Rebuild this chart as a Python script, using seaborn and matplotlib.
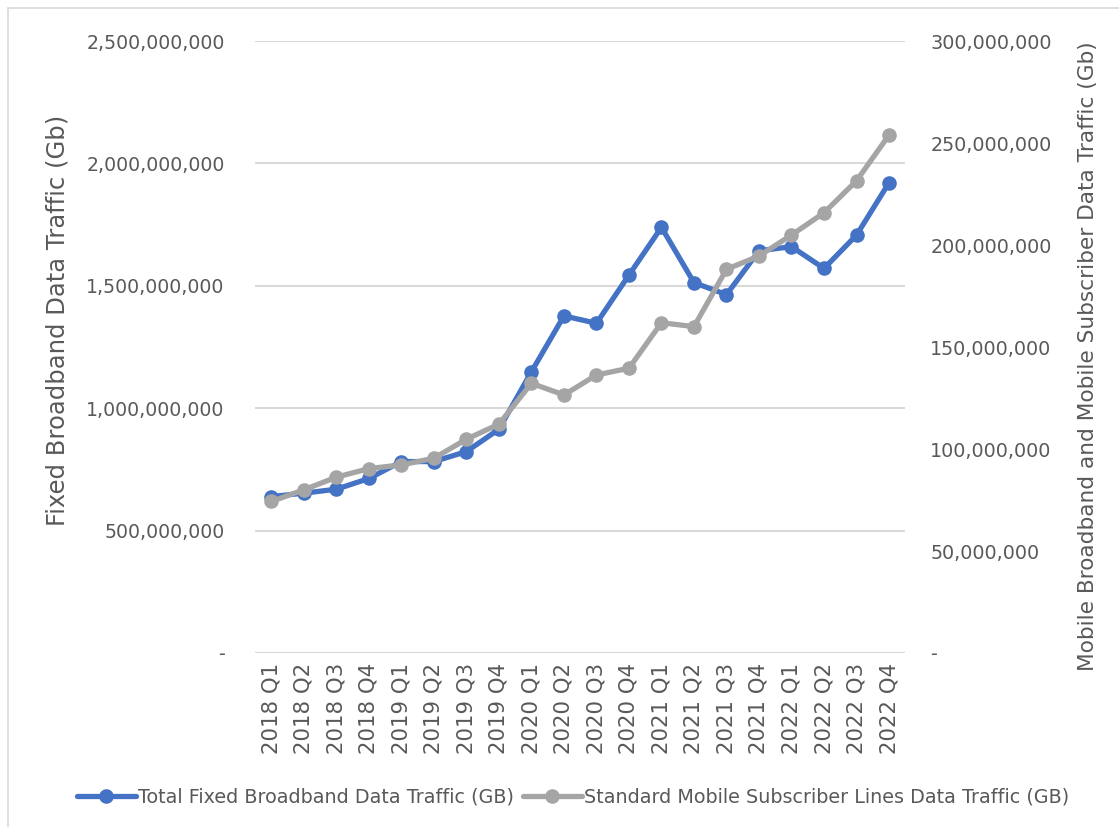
import matplotlib
matplotlib.use("Agg")
import matplotlib.pyplot as plt
import seaborn as sns
import pandas as pd
from matplotlib.ticker import FuncFormatter, MultipleLocator
from matplotlib.lines import Line2D

quarters = [
    "2018 Q1", "2018 Q2", "2018 Q3", "2018 Q4",
    "2019 Q1", "2019 Q2", "2019 Q3", "2019 Q4",
    "2020 Q1", "2020 Q2", "2020 Q3", "2020 Q4",
    "2021 Q1", "2021 Q2", "2021 Q3", "2021 Q4",
    "2022 Q1", "2022 Q2", "2022 Q3", "2022 Q4",
]
fixed_traffic = [
    639e6, 653e6, 669e6, 713e6,
    782e6, 782e6, 823e6, 914e6,
    1149e6, 1377e6, 1347e6, 1544e6,
    1739e6, 1513e6, 1464e6, 1643e6,
    1660e6, 1571e6, 1707e6, 1921e6,
]
mobile_traffic = [
    74.3e6, 80.0e6, 86.2e6, 90.4e6,
    92.2e6, 95.5e6, 104.8e6, 112.2e6,
    132.2e6, 126.5e6, 136.3e6, 139.6e6,
    161.9e6, 160.0e6, 188.1e6, 194.6e6,
    204.9e6, 215.8e6, 231.5e6, 253.9e6,
]
fixed_name = "Total Fixed Broadband Data Traffic (GB)"
mobile_name = "Standard Mobile Subscriber Lines Data Traffic (GB)"

df = pd.DataFrame({"quarter": quarters, "fixed": fixed_traffic, "mobile": mobile_traffic})

sns.set_theme(style="white")
plt.rcParams["font.family"] = ["DejaVu Sans"]

BLUE = "#4472C4"
GREY = "#A5A5A5"
TXT = "#595959"
GRID = "#D9D9D9"

fig = plt.figure(figsize=(11.19, 8.27), dpi=100)
ax = fig.add_axes([0.228, 0.2104, 0.581, 0.740])
ax2 = ax.twinx()

line_kw = dict(linewidth=3.8, marker="o", markersize=10.5, markeredgewidth=0, sort=False)
sns.lineplot(data=df, x="quarter", y="fixed", ax=ax, color=BLUE, zorder=3, **line_kw)
sns.lineplot(data=df, x="quarter", y="mobile", ax=ax2, color=GREY, zorder=3, **line_kw)

def acct(v, pos):
    return "-" if abs(v) < 1 else f"{v:,.0f}"

ax.set_ylim(0, 2.5e9)
ax2.set_ylim(0, 3.0e8)
ax.set_xlim(-0.5, len(quarters) - 0.5)
ax.yaxis.set_major_locator(MultipleLocator(5e8))
ax2.yaxis.set_major_locator(MultipleLocator(5e7))
ax.yaxis.set_major_formatter(FuncFormatter(acct))
ax2.yaxis.set_major_formatter(FuncFormatter(acct))

ax.grid(axis="y", color=GRID, linewidth=1.5, zorder=0)
ax.grid(axis="x", visible=False)
ax2.grid(False)
for a in (ax, ax2):
    for s in a.spines.values():
        s.set_visible(False)

ax.tick_params(axis="y", length=0, pad=22, labelsize=13.6, labelcolor=TXT)
ax2.tick_params(axis="y", length=0, pad=18, labelsize=13.8, labelcolor=TXT)
ax.tick_params(axis="x", length=0, pad=7, labelsize=15.3, labelcolor=TXT, labelrotation=90)

ax.set_xlabel("")
ax.set_ylabel("Fixed Broadband Data Traffic (Gb)", fontsize=17.5, color=TXT)
ax2.set_ylabel("Mobile Broadband and Mobile Subscriber Data Traffic (Gb)", fontsize=15.6, color=TXT)
ax.yaxis.set_label_coords(-0.285, 0.544)
ax2.yaxis.set_label_coords(1.266, 0.485)

handles = [
    Line2D([], [], color=BLUE, linewidth=3.8, marker="o", markersize=10.5, markeredgewidth=0),
    Line2D([], [], color=GREY, linewidth=3.8, marker="o", markersize=10.5, markeredgewidth=0),
]
fig.legend(handles, [fixed_name, mobile_name], loc="center", bbox_to_anchor=(0.512, 0.036),
           ncol=2, frameon=False, fontsize=13.8, handlelength=3.1, handletextpad=0.1,
           columnspacing=0.45, labelcolor=TXT)

# light outer frame on the left and top edges
fig.add_artist(Line2D([8 / 1119, 8 / 1119], [0, 1 - 8 / 827], transform=fig.transFigure,
                      color=GRID, linewidth=1.2))
fig.add_artist(Line2D([8 / 1119, 1], [1 - 8 / 827, 1 - 8 / 827], transform=fig.transFigure,
                      color=GRID, linewidth=1.2))

fig.savefig("out.png", dpi=100)
